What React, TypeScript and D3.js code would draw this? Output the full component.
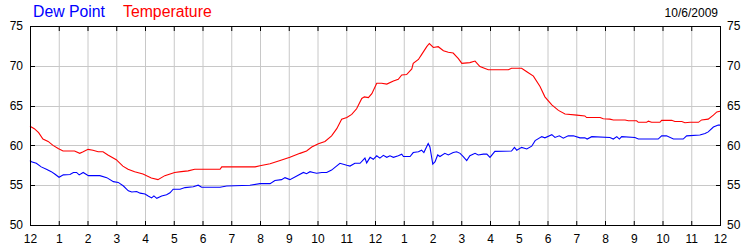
import React from "react";
import * as d3 from "d3";

// Hours since midnight (0..24) and °F values
const temperature: [number, number][] = [
  [0, 62.4], [0.15, 62.1], [0.3, 61.6], [0.45, 60.8], [0.63, 60.5], [0.8, 60.0],
  [0.98, 59.6], [1.15, 59.3], [1.55, 59.3], [1.73, 59.0], [1.85, 59.2], [2.02, 59.5],
  [2.19, 59.4], [2.37, 59.2], [2.54, 59.2], [2.71, 58.8], [3.0, 58.2], [3.23, 57.4],
  [3.41, 57.0], [3.64, 56.7], [3.93, 56.4], [4.22, 55.9], [4.45, 55.7], [4.69, 56.2],
  [5.03, 56.6], [5.26, 56.7], [5.5, 56.8], [5.73, 57.0], [6.61, 57.0], [6.67, 57.3],
  [7.83, 57.3], [8.0, 57.45], [8.35, 57.7], [8.7, 58.1], [9.04, 58.5], [9.39, 59.0],
  [9.62, 59.3], [9.8, 59.8], [10.03, 60.2], [10.26, 60.5], [10.49, 61.2], [10.67, 62.1],
  [10.84, 63.3], [11.02, 63.5], [11.19, 63.9], [11.36, 64.6], [11.54, 65.9], [11.63, 66.1],
  [11.77, 66.0], [11.89, 66.5], [12.06, 67.8], [12.23, 67.8], [12.41, 67.7], [12.64, 68.1],
  [12.81, 68.3], [12.93, 68.85], [13.1, 68.9], [13.28, 69.6], [13.33, 70.3], [13.51, 70.8],
  [13.62, 71.4], [13.8, 72.4], [13.89, 72.8], [14.03, 72.3], [14.2, 72.4], [14.38, 71.9],
  [14.55, 71.7], [14.72, 71.6], [14.9, 70.9], [15.02, 70.3], [15.3, 70.4], [15.48, 70.6],
  [15.65, 69.9], [15.94, 69.5], [16.64, 69.5], [16.75, 69.7], [17.1, 69.7], [17.28, 69.25],
  [17.51, 68.7], [17.74, 67.4], [17.91, 66.1], [18.15, 65.1], [18.38, 64.4], [18.61, 63.95],
  [19.02, 63.8], [19.3, 63.7], [19.36, 63.5], [19.83, 63.5], [19.94, 63.35], [20.17, 63.3],
  [20.29, 63.2], [20.7, 63.2], [20.81, 63.1], [21.1, 63.1], [21.16, 62.9], [21.45, 62.9],
  [21.51, 63.05], [21.62, 62.9], [21.91, 62.9], [21.97, 63.15], [22.32, 63.15], [22.43, 63.0],
  [22.67, 63.0], [22.78, 62.85], [22.96, 62.9], [23.25, 62.9], [23.36, 63.2], [23.59, 63.3],
  [23.77, 63.8], [23.89, 64.2], [24.0, 64.3],
];

const dewPoint: [number, number][] = [
  [0, 58.1], [0.05, 57.95], [0.22, 57.75], [0.39, 57.3], [0.57, 57.0], [0.74, 56.7],
  [0.86, 56.4], [1.01, 56.0], [1.16, 56.3], [1.39, 56.35], [1.51, 56.6], [1.62, 56.6],
  [1.71, 56.3], [1.85, 56.6], [2.03, 56.2], [2.43, 56.2], [2.67, 55.95], [2.9, 55.45],
  [3.07, 55.35], [3.25, 54.9], [3.42, 54.3], [3.54, 54.15], [3.71, 54.2], [3.83, 54.0],
  [4.0, 53.9], [4.11, 53.65], [4.23, 53.4], [4.31, 53.65], [4.41, 53.35], [4.58, 53.65],
  [4.75, 53.8], [4.87, 54.05], [4.98, 54.5], [5.22, 54.5], [5.39, 54.7], [5.68, 54.8],
  [5.85, 55.0], [5.97, 54.75], [6.61, 54.75], [6.84, 54.9], [7.65, 55.0], [8.0, 55.2],
  [8.35, 55.2], [8.52, 55.6], [8.75, 55.7], [8.87, 55.95], [9.04, 55.7], [9.28, 56.15],
  [9.51, 56.6], [9.62, 56.45], [9.74, 56.7], [9.85, 56.6], [9.97, 56.5], [10.15, 56.6],
  [10.32, 56.6], [10.49, 56.9], [10.78, 57.75], [11.02, 57.5], [11.13, 57.4], [11.3, 57.75],
  [11.48, 57.75], [11.65, 58.4], [11.71, 57.8], [11.83, 58.5], [11.94, 58.25], [12.06, 58.7],
  [12.17, 58.4], [12.29, 58.75], [12.41, 58.5], [12.52, 58.7], [12.64, 58.5], [12.81, 58.7],
  [12.93, 58.9], [12.99, 58.6], [13.22, 58.6], [13.33, 59.1], [13.51, 59.2], [13.62, 59.4],
  [13.7, 59.1], [13.85, 60.25], [13.91, 59.8], [14.01, 57.65], [14.09, 57.95], [14.18, 58.8],
  [14.26, 58.6], [14.43, 59.0], [14.55, 58.8], [14.72, 59.1], [14.84, 59.2], [14.96, 59.0],
  [15.07, 58.6], [15.19, 58.1], [15.3, 58.7], [15.48, 59.0], [15.59, 58.8], [15.77, 58.9],
  [15.89, 58.9], [16.0, 58.5], [16.17, 59.25], [16.75, 59.3], [16.85, 59.75], [16.93, 59.4],
  [17.1, 59.75], [17.28, 59.55], [17.45, 59.9], [17.57, 60.6], [17.8, 61.1], [17.91, 60.95],
  [18.15, 61.35], [18.26, 61.0], [18.41, 61.2], [18.55, 60.9], [18.72, 61.2], [18.9, 61.2],
  [19.13, 60.95], [19.3, 60.95], [19.38, 60.8], [19.54, 61.1], [20.17, 61.0], [20.29, 60.8],
  [20.41, 61.1], [20.5, 60.8], [20.58, 61.1], [21.04, 61.0], [21.16, 60.8], [21.85, 60.8],
  [21.97, 61.2], [22.14, 61.2], [22.38, 60.8], [22.72, 60.8], [22.84, 61.2], [23.3, 61.3],
  [23.48, 61.5], [23.59, 61.7], [23.77, 62.3], [23.94, 62.55], [24.0, 62.55],
];

const hourLabels = ["12", "1", "2", "3", "4", "5", "6", "7", "8", "9", "10", "11",
  "12", "1", "2", "3", "4", "5", "6", "7", "8", "9", "10", "11", "12"];
const yTicks = [50, 55, 60, 65, 70, 75];
const seriesNames = ["Dew Point", "Temperature"];
const dateLabel = "10/6/2009";

const W = 750, H = 250;
const L = 30, R = 720, T = 26, B = 225;
const FONT = "'Liberation Sans', Arial, sans-serif";

export default function App() {
  const x = d3.scaleLinear().domain([0, 24]).range([L, R]);
  const y = d3.scaleLinear().domain([50, 75]).range([B, T]);
  const line = d3.line<[number, number]>().x(d => x(d[0])).y(d => y(d[1]));
  const hours = d3.range(0, 25);
  const grid = "#c8c8c8";

  return (
    <svg width={W} height={H} style={{ position: "absolute", left: 0, top: 0, background: "#fff" }}>
      <rect x={0} y={0} width={W} height={H} fill="#fff" />
      {/* grid */}
      {hours.slice(1, -1).map(h => (
        <line key={"v" + h} x1={x(h) + 0.5} x2={x(h) + 0.5} y1={T} y2={B} stroke={grid} strokeWidth={1} />
      ))}
      {yTicks.slice(1, -1).map(v => (
        <line key={"h" + v} x1={L} x2={R} y1={Math.round(y(v)) + 0.5} y2={Math.round(y(v)) + 0.5} stroke={grid} strokeWidth={1} />
      ))}
      {/* lines */}
      <path d={line(dewPoint) || ""} fill="none" stroke="#0000ff" strokeWidth={1.1} />
      <path d={line(temperature) || ""} fill="none" stroke="#ff0000" strokeWidth={1.1} />
      {/* frame */}
      <rect x={L + 0.5} y={T + 0.5} width={R - L} height={B - T} fill="none" stroke="#000" strokeWidth={1} />
      {/* ticks */}
      {hours.map(h => (
        <g key={"t" + h}>
          <line x1={x(h) + 0.5} x2={x(h) + 0.5} y1={T} y2={T + 5} stroke="#000" />
          <line x1={x(h) + 0.5} x2={x(h) + 0.5} y1={B - 4} y2={B + 1} stroke="#000" />
        </g>
      ))}
      {yTicks.map(v => (
        <g key={"yt" + v}>
          <line x1={L} x2={L + 5} y1={Math.round(y(v)) + 0.5} y2={Math.round(y(v)) + 0.5} stroke="#000" />
          <line x1={R - 4} x2={R + 1} y1={Math.round(y(v)) + 0.5} y2={Math.round(y(v)) + 0.5} stroke="#000" />
        </g>
      ))}
      {/* labels */}
      {yTicks.map(v => (
        <g key={"yl" + v} fontFamily={FONT} fontSize={12} fill="#000">
          <text x={23} y={y(v)} dy="0.35em" textAnchor="end">{v}</text>
          <text x={727} y={y(v)} dy="0.35em" textAnchor="start">{v}</text>
        </g>
      ))}
      {hourLabels.map((lab, i) => (
        <text key={"xl" + i} x={x(i) + 0.5} y={243} textAnchor="middle" fontFamily={FONT} fontSize={12} fill="#000">{lab}</text>
      ))}
      {/* legend */}
      <text x={33} y={17} fontFamily={FONT} fontSize={15.8} fill="#0000ff">{seriesNames[0]}</text>
      <text x={123} y={17} fontFamily={FONT} fontSize={15.8} fill="#ff0000">{seriesNames[1]}</text>
      <text x={718} y={16.5} textAnchor="end" fontFamily={FONT} fontSize={12} fill="#000">{dateLabel}</text>
    </svg>
  );
}
